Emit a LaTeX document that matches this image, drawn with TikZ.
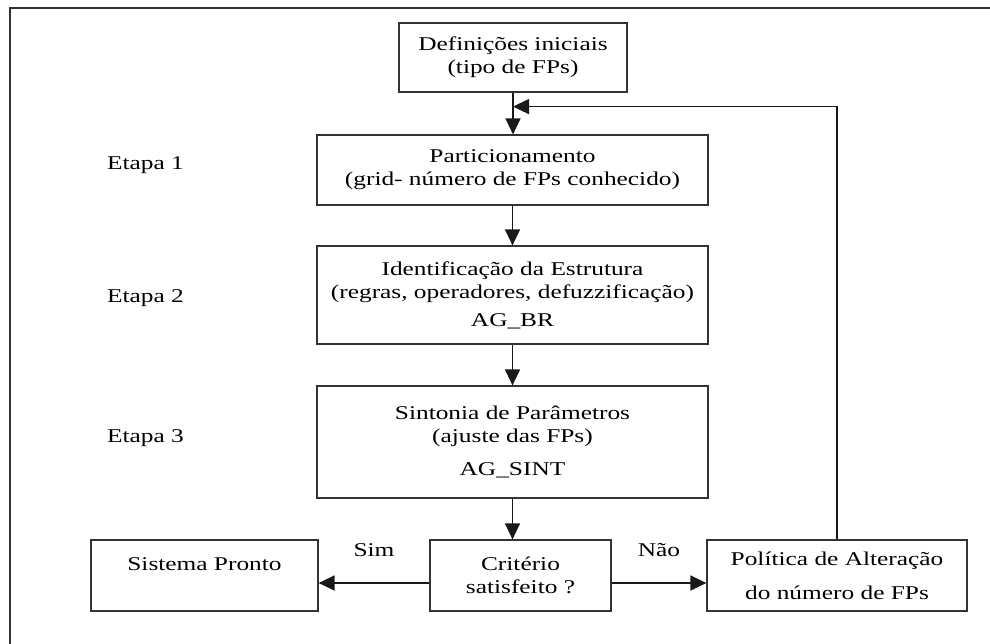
\documentclass[tikz,border=0pt]{standalone}
\usepackage{fontspec}
\setmainfont{Liberation Serif}[FakeStretch=1.3]
\usetikzlibrary{arrows.meta}
\usetikzlibrary{calc}

\begin{document}
\begin{tikzpicture}[x=1pt,y=-1pt,
  box/.style={draw=black!80,line width=1.2pt,rectangle,align=center,inner sep=0pt,font=\fontsize{19.5}{23}\selectfont},
  flow/.style={draw=black!90,line width=1.4pt,-{Triangle[length=16pt,width=15pt]}},
  lbl/.style={font=\fontsize{19.5}{23}\selectfont,inner sep=0pt}]
\useasboundingbox (0,0) rectangle (990,644);
\draw[black!80,line width=1.6pt] (10,650) -- (10,8) -- (996,8);
\node[box,minimum width=228pt,minimum height=69pt] (def) at (513,57.5) {Definições iniciais\\(tipo de FPs)};
\node[box,minimum width=391pt,minimum height=70pt] (part) at (512.5,170) {Particionamento\\(grid- número de FPs conhecido)};
\node[box,minimum width=391pt,minimum height=98pt] (ident) at (512.5,295) {Identificação da Estrutura\\(regras, operadores, defuzzificação)\\[5pt]AG\_BR};
\node[box,minimum width=391pt,minimum height=112pt] (sint) at (512.5,442) {Sintonia de Parâmetros\\(ajuste das FPs)\\[10pt]AG\_SINT};
\node[box,minimum width=227pt,minimum height=71pt] (sist) at (204.5,575.5) {Sistema Pronto\\\mbox{}};
\node[box,minimum width=181pt,minimum height=71pt] (crit) at (520.5,575.5) {Critério\\satisfeito ?};
\node[box,minimum width=260pt,minimum height=71pt] (pol) at (837,575.5) {Política de Alteração\\[11pt]do número de FPs};
% etapas
\node[lbl,anchor=west] (et1) at (107,165) {Etapa 1};
\node[lbl,anchor=west] (et2) at (107,298) {Etapa 2};
\node[lbl,anchor=west] (et3) at (107,438) {Etapa 3};
% fluxo
\draw[flow] (def.south) -- (def.south |- part.north);
\draw[flow] (part) -- (ident);
\draw[flow] (ident) -- (sint);
\draw[flow] (sint.south) -- (sint.south |- crit.north);
\draw[flow] ([yshift=-7.5pt]crit.west) -- ([yshift=-7.5pt]sist.east) node[midway,above=26pt,lbl] (sim) {Sim};
\draw[flow] ([yshift=-7.5pt]crit.east) -- ([yshift=-7.5pt]pol.west) node[midway,above=26pt,lbl] (nao) {Não};
\draw[flow] (pol.north) |- ($(def.south)+(0,14)$);
\end{tikzpicture}
\end{document}
